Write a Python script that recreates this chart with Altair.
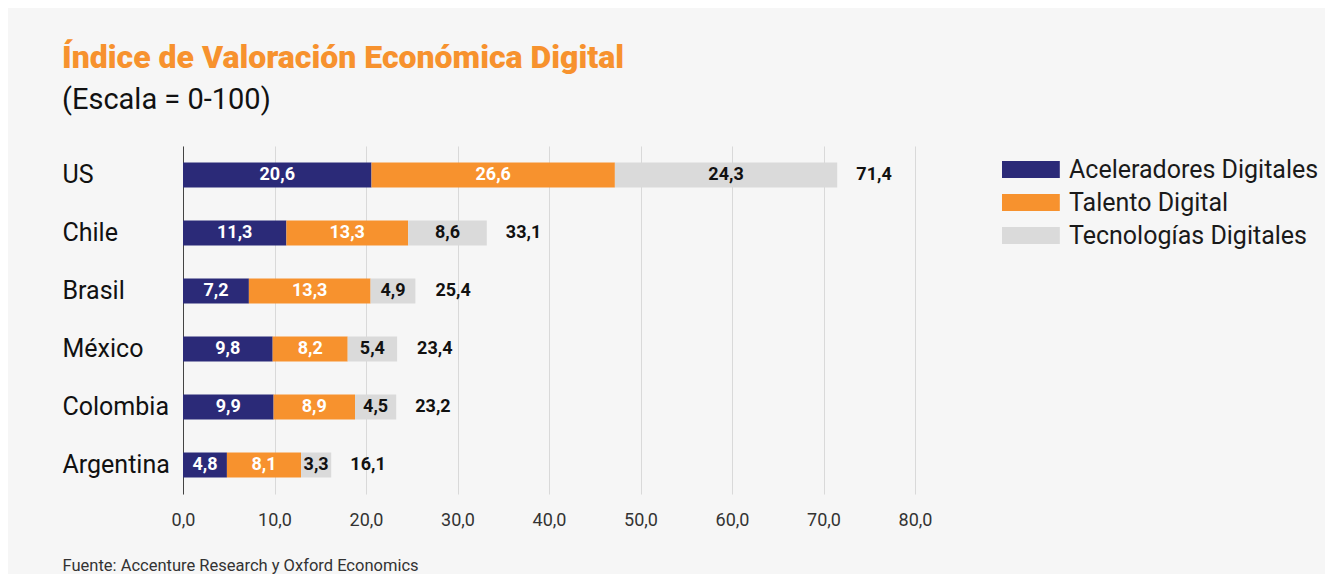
import altair as alt
import pandas as pd

paises = ["US", "Chile", "Brasil", "México", "Colombia", "Argentina"]
series = ["Aceleradores Digitales", "Talento Digital", "Tecnologías Digitales"]
aceleradores = [20.6, 11.3, 7.2, 9.8, 9.9, 4.8]
talento = [26.6, 13.3, 13.3, 8.2, 8.9, 8.1]
tecnologias = [24.3, 8.6, 4.9, 5.4, 4.5, 3.3]
totales = [71.4, 33.1, 25.4, 23.4, 23.2, 16.1]
colores = ["#2b2a78", "#f7922e", "#dadada"]

rows = []
for i, p in enumerate(paises):
    start = 0.0
    for s, vals in zip(series, [aceleradores, talento, tecnologias]):
        v = vals[i]
        rows.append({
            "pais": p, "serie": s, "orden": series.index(s), "valor": v,
            "start": start, "end": start + v, "mid": start + v / 2,
            "etiqueta": f"{v:.1f}".replace(".", ","),
        })
        start += v
df = pd.DataFrame(rows)
df_tot = pd.DataFrame({
    "pais": paises,
    "total": totales,
    "etiqueta": [f"{t:.1f}".replace(".", ",") for t in totales],
})

FONT = "Roboto"
W, H = 732, 348

y_enc = alt.Y("pais:N", sort=paises, title=None,
              scale=alt.Scale(paddingInner=0.569, paddingOuter=0.2845),
              axis=alt.Axis(domain=True, domainColor="#444", domainWidth=1,
                            ticks=False, grid=False, labelAlign="left",
                            labelPadding=121, labelFontSize=25, labelColor="#111",
                            labelFont=FONT, labelFontWeight="normal"))

x_scale = alt.Scale(domain=[0, 80], nice=False)

bars = alt.Chart(df).mark_bar().encode(
    x=alt.X("start:Q", scale=x_scale,
            axis=alt.Axis(values=[0, 10, 20, 30, 40, 50, 60, 70, 80],
                          labelExpr="replace(format(datum.value, '.1f'), '.', ',')",
                          domain=False, ticks=False, grid=True,
                          gridColor="#d9d9d9", gridWidth=1, labelFlush=False,
                          labelFontSize=18, labelColor="#333", labelFont=FONT,
                          labelPadding=17,
                          title="Fuente: Accenture Research y Oxford Economics",
                          titleX=-121, titleY=71, titleAlign="left",
                          titleBaseline="middle", titleFontSize=16.5,
                          titleFontWeight="normal", titleColor="#333",
                          titleFont=FONT)),
    x2="end:Q",
    y=y_enc,
    color=alt.Color("serie:N", scale=alt.Scale(domain=series, range=colores),
                    legend=alt.Legend(title=None)),
    order=alt.Order("orden:Q"),
)

seg_text = alt.Chart(df).mark_text(fontSize=18, fontWeight="bold", font=FONT,
                                   baseline="middle").encode(
    x=alt.X("mid:Q", scale=x_scale),
    y=alt.Y("pais:N", sort=paises),
    text="etiqueta:N",
    color=alt.condition("datum.serie == 'Tecnologías Digitales'",
                        alt.value("#111"), alt.value("white")),
)

tot_text = alt.Chart(df_tot).mark_text(fontSize=18, fontWeight="bold", font=FONT,
                                       align="left", baseline="middle", dx=20,
                                       color="#111").encode(
    x=alt.X("total:Q", scale=x_scale),
    y=alt.Y("pais:N", sort=paises),
    text="etiqueta:N",
)

chart = alt.layer(bars, seg_text, tot_text).properties(
    width=W, height=H,
    autosize=alt.AutoSizeParams(type="none"),
    padding={"left": 175, "top": 138, "right": 410, "bottom": 80},
    background="#f6f6f6",
    title=alt.TitleParams(
        text="Índice de Valoración Económica Digital",
        subtitle="(Escala = 0-100)",
        anchor="start", frame="group", dx=-121, offset=30,
        font=FONT, fontSize=32, fontWeight=900,
        color="#f7922e",
        subtitleFont=FONT, subtitleFontSize=29, subtitleColor="#111",
        subtitlePadding=11,
    ),
).configure_view(stroke=None).configure_legend(
    orient="none", legendX=815, legendY=11, padding=0,
    symbolType="M-1,-1H5.8V1H-1Z", symbolSize=289, symbolStrokeWidth=0,
    symbolOpacity=1, labelOffset=46, rowPadding=7, labelFontSize=25,
    labelColor="#1a1a1a", labelFont=FONT, labelLimit=400,
)

chart.save("out.html", embed_options={"renderer": "svg", "actions": False})
